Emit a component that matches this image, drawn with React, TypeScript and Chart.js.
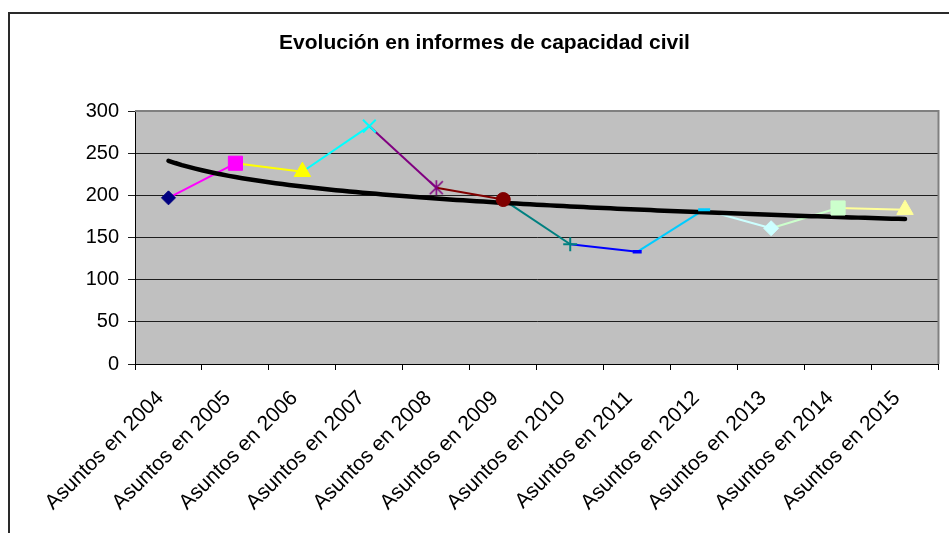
import { useEffect, useRef } from 'react';
import { Chart, registerables } from 'chart.js';

Chart.register(...registerables);

const chartTitle = 'Evolución en informes de capacidad civil';
const categories = [
  'Asuntos en 2004', 'Asuntos en 2005', 'Asuntos en 2006', 'Asuntos en 2007',
  'Asuntos en 2008', 'Asuntos en 2009', 'Asuntos en 2010', 'Asuntos en 2011',
  'Asuntos en 2012', 'Asuntos en 2013', 'Asuntos en 2014', 'Asuntos en 2015',
];
const values = [197, 238, 228, 282, 209, 195, 142, 133, 183, 161, 185, 183];
const pointColors = [
  '#000080', '#FF00FF', '#FFFF00', '#00FFFF', '#800080', '#800000',
  '#008080', '#0000FF', '#00CCFF', '#CCFFFF', '#CCFFCC', '#FFFF99',
];
const yMin = 0;
const yMax = 300;
const yStep = 50;

function makeStar(color: string): HTMLCanvasElement {
  const c = document.createElement('canvas');
  c.width = 17;
  c.height = 17;
  const g = c.getContext('2d')!;
  g.strokeStyle = color;
  g.lineWidth = 1.6;
  g.beginPath();
  g.moveTo(2, 2); g.lineTo(15, 15);
  g.moveTo(15, 2); g.lineTo(2, 15);
  g.moveTo(8.5, 1); g.lineTo(8.5, 16);
  g.stroke();
  return c;
}

// logarithmic least-squares trend (Excel "Logarítmica")
function logFit(ys: number[]) {
  const n = ys.length;
  const lx = ys.map((_, i) => Math.log(i + 1));
  const mx = lx.reduce((s, v) => s + v, 0) / n;
  const my = ys.reduce((s, v) => s + v, 0) / n;
  let sxy = 0, sxx = 0;
  for (let i = 0; i < n; i++) {
    sxy += (lx[i] - mx) * (ys[i] - my);
    sxx += (lx[i] - mx) * (lx[i] - mx);
  }
  const a = sxy / sxx;
  return { a, b: my - a * mx };
}

export default function App() {
  const ref = useRef<HTMLCanvasElement>(null);

  useEffect(() => {
    const canvas = ref.current!;
    const { a, b } = logFit(values);
    const trend: { x: number; y: number }[] = [];
    for (let k = 0; k <= 110; k++) {
      const x = 1 + k * 0.1;
      trend.push({ x, y: a * Math.log(x) + b });
    }

    const styles: any[] = [
      'rectRot', 'rect', 'triangle', 'crossRot', makeStar(pointColors[4]), 'circle',
      'cross', 'line', 'line', 'rectRot', 'rect', 'triangle',
    ];
    const radii = [7, 10, 9.5, 9, 8, 7, 7, 4.5, 6, 7.5, 10, 9.5];
    const bws = [1, 1, 1, 2, 0, 1, 2, 3.5, 3, 1, 1, 1];

    const framePlugin = {
      id: 'frame',
      beforeDraw(chart: any) {
        const { ctx, chartArea } = chart;
        ctx.save();
        ctx.fillStyle = '#C0C0C0';
        ctx.fillRect(chartArea.left, chartArea.top, chartArea.right - chartArea.left, chartArea.bottom - chartArea.top);
        ctx.strokeStyle = '#2a2a2a';
        ctx.lineWidth = 2;
        ctx.beginPath();
        ctx.moveTo(9, 540);
        ctx.lineTo(9, 13);
        ctx.lineTo(960, 13);
        ctx.stroke();
        ctx.fillStyle = '#000';
        ctx.font = 'bold 21px "Liberation Sans", Arial, sans-serif';
        ctx.textAlign = 'center';
        ctx.textBaseline = 'alphabetic';
        ctx.fillText(chartTitle, 484.5, 49);
        ctx.restore();
      },
      beforeDatasetsDraw(chart: any) {
        const { ctx, chartArea } = chart;
        ctx.save();
        ctx.strokeStyle = '#808080';
        ctx.lineWidth = 2;
        ctx.beginPath();
        ctx.moveTo(chartArea.left, chartArea.top);
        ctx.lineTo(chartArea.right, chartArea.top);
        ctx.lineTo(chartArea.right, chartArea.bottom);
        ctx.stroke();
        ctx.restore();
      },
    };

    const chart = new Chart(canvas, {
      type: 'line',
      data: {
        labels: categories,
        datasets: [
          {
            data: values,
            showLine: false,
            pointStyle: styles,
            pointRadius: radii,
            pointHoverRadius: radii,
            pointBackgroundColor: pointColors,
            pointBorderColor: pointColors,
            pointBorderWidth: bws,
            order: 0,
          } as any,
          {
            data: trend,
            xAxisID: 'xt',
            borderColor: '#000',
            borderWidth: 4.5,
            borderCapStyle: 'round',
            pointRadius: 0,
            tension: 0,
            order: 1,
          } as any,
          {
            data: values,
            borderWidth: 2,
            pointRadius: 0,
            tension: 0,
            segment: { borderColor: (c: any) => pointColors[c.p1DataIndex] },
            borderColor: pointColors[1],
            order: 2,
          } as any,
        ],
      },
      options: {
        responsive: false,
        animation: false,
        devicePixelRatio: 1,
        layout: { padding: { top: 111, right: 9, bottom: 0, left: 0 } },
        plugins: { legend: { display: false }, title: { display: false }, tooltip: { enabled: false } },
        scales: {
          x: {
            type: 'category',
            offset: true,
            grid: { offset: true, drawOnChartArea: false, drawTicks: true, tickLength: 6, color: '#000' },
            border: { display: true, color: '#000', width: 1 },
            ticks: {
              minRotation: 45,
              maxRotation: 45,
              autoSkip: false,
              color: '#000',
              padding: 16,
              labelOffset: -8,
              font: { family: '"Liberation Sans", Arial, sans-serif', size: 21 },
            },
            afterFit(scale: any) { scale.height = 169; },
          },
          xt: {
            type: 'linear',
            display: false,
            min: 0.5,
            max: 12.5,
          },
          y: {
            min: yMin,
            max: yMax,
            ticks: {
              stepSize: yStep,
              color: '#000',
              padding: 9,
              font: { family: '"Liberation Sans", Arial, sans-serif', size: 20 },
            },
            grid: { color: '#1e1e1e', lineWidth: 1, tickLength: 7, drawTicks: true },
            border: { display: true, color: '#000', width: 1 },
            afterFit(scale: any) { scale.width = 135; },
          },
        },
      } as any,
      plugins: [framePlugin],
    });
    return () => chart.destroy();
  }, []);

  return (
    <div style={{ position: 'fixed', left: 0, top: 0, width: 949, height: 533, background: '#fff' }}>
      <canvas ref={ref} width={949} height={533} style={{ display: 'block' }} />
    </div>
  );
}
